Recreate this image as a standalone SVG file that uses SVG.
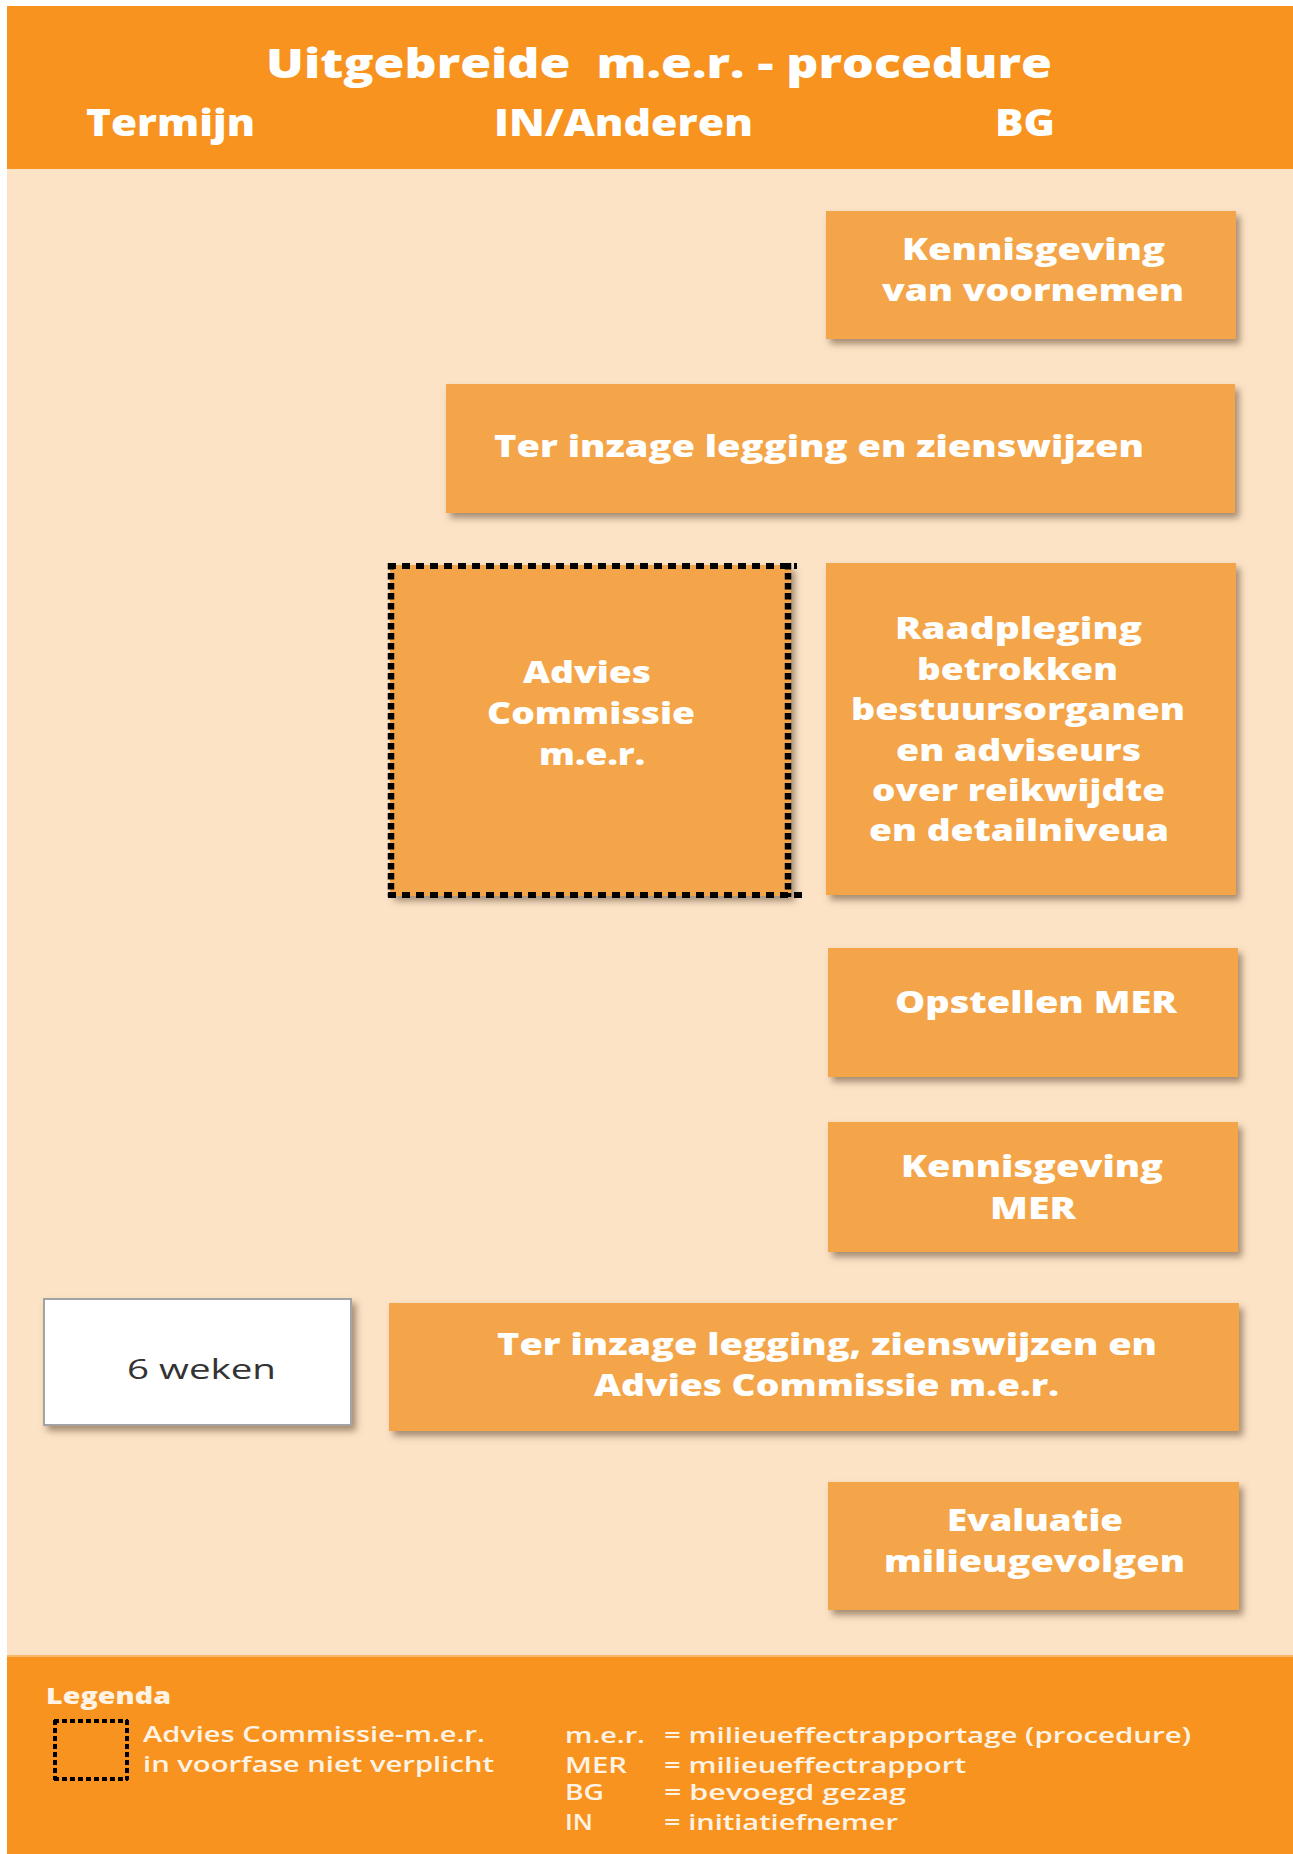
<svg xmlns="http://www.w3.org/2000/svg" width="1293" height="1854" viewBox="0 0 1293 1854">
  <defs>
    <style>
      .hdr { fill: #F7931E; }
      .body { fill: #FCE3C6; }
      .box { fill: #F5A548; filter: url(#sh); }
      .wbox { fill: #FFFFFF; stroke: #A3A3A3; stroke-width: 2; filter: url(#sh); }
      .t { font-family: "Open Sans", "Liberation Sans", sans-serif; font-weight: 800; fill: #FFFFFF; }
      .th { font-size: 37px; }
      .tt { font-size: 40px; }
      .tb { font-size: 30px; }
      .tf { font-family: "Open Sans", "Liberation Sans", sans-serif; font-size: 22px; font-weight: 600; fill: #FFF3E6; }
      .tfb { font-weight: 800; }
      .dk { font-family: "Open Sans", "Liberation Sans", sans-serif; font-size: 28px; fill: #333333; }
      .dh { stroke: #000; stroke-width: 6; stroke-dasharray: 8 6; fill: none; }
      .dv { stroke: #000; stroke-width: 6.5; stroke-dasharray: 6.5 3.5; fill: none; }
      .ld { stroke: #000; stroke-width: 4; stroke-dasharray: 5 3; fill: none; }
    </style>
    <filter id="sh" x="-10%" y="-10%" width="125%" height="130%">
      <feDropShadow dx="4" dy="5" stdDeviation="3.5" flood-color="#6b5038" flood-opacity="0.6"/>
    </filter>
  </defs>

  <rect x="0" y="0" width="1293" height="1854" fill="#FFFFFF"/>

  <g id="header">
    <rect class="hdr" x="7" y="6" width="1286" height="163"/>
    <text class="t tt" x="266" y="78" textLength="786" lengthAdjust="spacingAndGlyphs" xml:space="preserve">Uitgebreide  m.e.r. - procedure</text>
    <text class="t th" x="86" y="136" textLength="169" lengthAdjust="spacingAndGlyphs">Termijn</text>
    <text class="t th" x="494" y="136" textLength="259" lengthAdjust="spacingAndGlyphs">IN/Anderen</text>
    <text class="t th" x="995" y="136" textLength="60" lengthAdjust="spacingAndGlyphs">BG</text>
  </g>

  <rect class="body" x="7" y="169" width="1286" height="1487"/>

  <g id="kennisgeving-voornemen">
    <rect class="box" x="826" y="211" width="410" height="128"/>
    <text class="t tb" x="902" y="260" textLength="263" lengthAdjust="spacingAndGlyphs">Kennisgeving</text>
    <text class="t tb" x="882" y="301" textLength="302" lengthAdjust="spacingAndGlyphs">van voornemen</text>
  </g>

  <g id="ter-inzage-1">
    <rect class="box" x="446" y="384" width="789" height="129"/>
    <text class="t tb" x="494" y="457" textLength="650" lengthAdjust="spacingAndGlyphs">Ter inzage legging en zienswijzen</text>
  </g>

  <g id="advies-commissie">
    <rect class="box" x="390" y="565" width="401" height="331"/>
    <line class="dh" x1="388" y1="566" x2="797" y2="566"/>
    <line class="dh" x1="388" y1="895" x2="806" y2="895"/>
    <line class="dv" x1="391" y1="563" x2="391" y2="897"/>
    <line class="dv" x1="788" y1="563" x2="788" y2="897"/>
    <text class="t tb" x="523" y="683" textLength="128" lengthAdjust="spacingAndGlyphs">Advies</text>
    <text class="t tb" x="487" y="724" textLength="208" lengthAdjust="spacingAndGlyphs">Commissie</text>
    <text class="t tb" x="539" y="765" textLength="106" lengthAdjust="spacingAndGlyphs">m.e.r.</text>
  </g>

  <g id="raadpleging">
    <rect class="box" x="826" y="563" width="410" height="332"/>
    <text class="t tb" x="895" y="639" textLength="247" lengthAdjust="spacingAndGlyphs">Raadpleging</text>
    <text class="t tb" x="917" y="680" textLength="201" lengthAdjust="spacingAndGlyphs">betrokken</text>
    <text class="t tb" x="851" y="720" textLength="334" lengthAdjust="spacingAndGlyphs">bestuursorganen</text>
    <text class="t tb" x="896" y="761" textLength="245" lengthAdjust="spacingAndGlyphs">en adviseurs</text>
    <text class="t tb" x="872" y="801" textLength="293" lengthAdjust="spacingAndGlyphs">over reikwijdte</text>
    <text class="t tb" x="869" y="841" textLength="300" lengthAdjust="spacingAndGlyphs">en detailniveua</text>
  </g>

  <g id="opstellen-mer">
    <rect class="box" x="828" y="948" width="410" height="129"/>
    <text class="t tb" x="895" y="1013" textLength="282" lengthAdjust="spacingAndGlyphs">Opstellen MER</text>
  </g>

  <g id="kennisgeving-mer">
    <rect class="box" x="828" y="1122" width="410" height="130"/>
    <text class="t tb" x="901" y="1177" textLength="262" lengthAdjust="spacingAndGlyphs">Kennisgeving</text>
    <text class="t tb" x="990" y="1219" textLength="86" lengthAdjust="spacingAndGlyphs">MER</text>
  </g>

  <g id="termijn-6-weken">
    <rect class="wbox" x="44" y="1299" width="307" height="126"/>
    <text class="dk" x="127" y="1379" textLength="149" lengthAdjust="spacingAndGlyphs">6 weken</text>
  </g>

  <g id="ter-inzage-2">
    <rect class="box" x="389" y="1303" width="850" height="128"/>
    <text class="t tb" x="497" y="1355" textLength="660" lengthAdjust="spacingAndGlyphs">Ter inzage legging, zienswijzen en</text>
    <text class="t tb" x="594" y="1396" textLength="465" lengthAdjust="spacingAndGlyphs">Advies Commissie m.e.r.</text>
  </g>

  <g id="evaluatie">
    <rect class="box" x="828" y="1482" width="411" height="128"/>
    <text class="t tb" x="947" y="1531" textLength="176" lengthAdjust="spacingAndGlyphs">Evaluatie</text>
    <text class="t tb" x="884" y="1572" textLength="301" lengthAdjust="spacingAndGlyphs">milieugevolgen</text>
  </g>

  <g id="connectors"></g>

  <g id="legenda">
    <rect class="hdr" x="7" y="1656" width="1286" height="198"/>
    <line x1="7" y1="1656" x2="1293" y2="1656" stroke="#F9B868" stroke-width="2"/>
    <text class="tf tfb" x="46" y="1704" textLength="125" lengthAdjust="spacingAndGlyphs">Legenda</text>
    <line class="ld" x1="54" y1="1721" x2="128" y2="1721"/>
    <line class="ld" x1="54" y1="1779" x2="128" y2="1779"/>
    <line class="ld" x1="55" y1="1720" x2="55" y2="1780"/>
    <line class="ld" x1="127" y1="1720" x2="127" y2="1780"/>
    <text class="tf" x="143" y="1742" textLength="342" lengthAdjust="spacingAndGlyphs">Advies Commissie-m.e.r.</text>
    <text class="tf" x="143" y="1772" textLength="351" lengthAdjust="spacingAndGlyphs">in voorfase niet verplicht</text>
    <text class="tf" x="565" y="1743" textLength="80" lengthAdjust="spacingAndGlyphs">m.e.r.</text>
    <text class="tf" x="565" y="1773" textLength="62" lengthAdjust="spacingAndGlyphs">MER</text>
    <text class="tf" x="565" y="1800" textLength="39" lengthAdjust="spacingAndGlyphs">BG</text>
    <text class="tf" x="565" y="1830" textLength="28" lengthAdjust="spacingAndGlyphs">IN</text>
    <text class="tf" x="664" y="1743" textLength="527" lengthAdjust="spacingAndGlyphs">= milieueffectrapportage (procedure)</text>
    <text class="tf" x="664" y="1773" textLength="302" lengthAdjust="spacingAndGlyphs">= milieueffectrapport</text>
    <text class="tf" x="664" y="1800" textLength="242" lengthAdjust="spacingAndGlyphs">= bevoegd gezag</text>
    <text class="tf" x="664" y="1830" textLength="234" lengthAdjust="spacingAndGlyphs">= initiatiefnemer</text>
  </g>
</svg>
